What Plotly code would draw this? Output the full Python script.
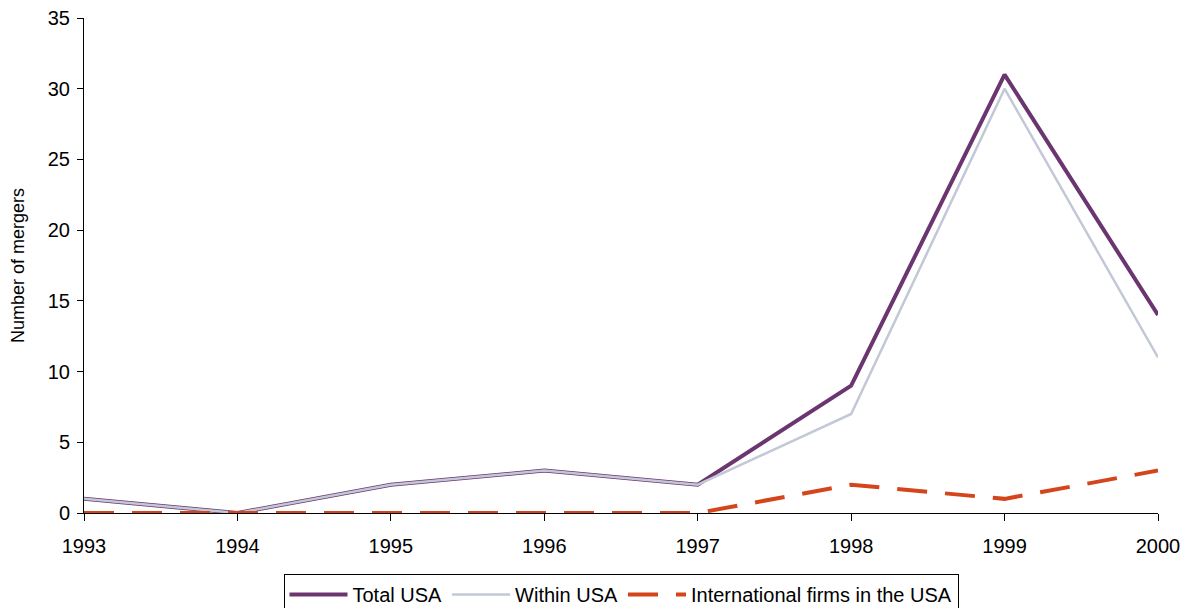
import plotly.graph_objects as go

years = [1993, 1994, 1995, 1996, 1997, 1998, 1999, 2000]
total_usa = [1, 0, 2, 3, 2, 9, 31, 14]
within_usa = [1, 0, 2, 3, 2, 7, 30, 11]
international = [0, 0, 0, 0, 0, 2, 1, 3]

fig = go.Figure()
fig.add_trace(go.Scatter(x=years, y=total_usa, mode="lines", name="Total USA",
                         line=dict(color="#6B3670", width=4)))
fig.add_trace(go.Scatter(x=years, y=within_usa, mode="lines", name="Within USA",
                         line=dict(color="#C3C8D6", width=2.5)))
fig.add_trace(go.Scatter(x=years, y=international, mode="lines",
                         name="International firms in the USA",
                         line=dict(color="#D5451B", width=4, dash="30px,18px")))

# the page body has an 8px margin, so the figure is sized and placed to compensate
W, H = 1189, 600
font = dict(family="Liberation Sans, Arial, sans-serif", size=20, color="#000")
fig.update_layout(
    width=W, height=H,
    margin=dict(l=76, r=39, t=10, b=95, autoexpand=False),
    paper_bgcolor="white", plot_bgcolor="white",
    font=font,
    showlegend=True,
    legend=dict(orientation="h", x=0.5, xanchor="center",
                yref="container", y=1 - 566 / H, yanchor="top",
                bordercolor="#000", borderwidth=1, font=dict(size=20),
                itemwidth=58, tracegroupgap=0),
)
fig.update_xaxes(range=[1993, 2000], tickmode="array", tickvals=years,
                 ticks="outside", ticklen=7, tickcolor="#000", showline=True,
                 linecolor="#000", linewidth=1, showgrid=False, zeroline=False,
                 tickfont=dict(size=20), automargin=False, ticklabelstandoff=8,
                 ticklabeloverflow="allow")
fig.update_yaxes(range=[0, 35], dtick=5, ticks="outside", ticklen=6, tickcolor="#000",
                 showline=True, linecolor="#000", linewidth=1, showgrid=False,
                 zeroline=False, tickfont=dict(size=20), automargin=False,
                 ticklabelstandoff=3, ticklabeloverflow="allow",
                 title=dict(text="Number of mergers", font=dict(size=18), standoff=18))

fig.write_html("out.html")
